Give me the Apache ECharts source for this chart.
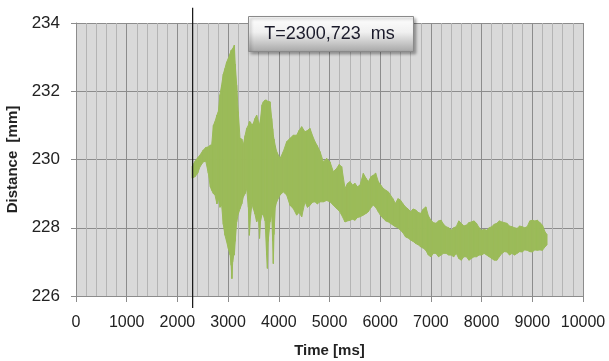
<!DOCTYPE html>
<html>
<head>
<meta charset="utf-8">
<style>
  html, body { margin: 0; padding: 0; background: #fff; }
  #chart { width: 609px; height: 361px; }
</style>
<script src="https://cdn.jsdelivr.net/npm/echarts@6/dist/echarts.min.js"></script>
</head>
<body>
<div id="chart"></div>
<script>
const time = [
  2290, 2350, 2400, 2446, 2511, 2560, 2610, 2650, 2676, 2710, 2742, 2780, 2807, 2840,
  2873, 2905, 2939, 2970, 3005, 3040, 3060, 3075, 3090, 3110, 3123, 3140, 3169, 3200,
  3235, 3270, 3300, 3335, 3366, 3400, 3420, 3440, 3470, 3498, 3530, 3563, 3600, 3620,
  3640, 3670, 3695, 3730, 3760, 3775, 3790, 3827, 3860, 3880, 3892, 3905, 3930, 3958,
  4024, 4089, 4155, 4221, 4287, 4352, 4400, 4451, 4517, 4565, 4615, 4665, 4714, 4760,
  4813, 4879, 4944, 5010, 5076, 5142, 5190, 5240, 5306, 5355, 5405, 5455, 5503, 5550,
  5602, 5667, 5720, 5766, 5820, 5865, 5910, 5963, 6010, 6062, 6110, 6161, 6250, 6300,
  6350, 6400, 6450, 6500, 6550, 6600, 6650, 6700, 6750, 6800, 6850, 6900, 6950, 7000,
  7050, 7100, 7150, 7200, 7250, 7300, 7350, 7400, 7450, 7500, 7550, 7600, 7650, 7700,
  7750, 7800, 7850, 7900, 7950, 8000, 8050, 8100, 8150, 8200, 8250, 8300, 8350, 8400,
  8450, 8500, 8550, 8600, 8650, 8700, 8750, 8800, 8850, 8900, 8950, 9000, 9050, 9100,
  9150, 9200, 9250, 9290,
];
const upper = [
  229.80, 229.95, 230.05, 230.13, 230.28, 230.35, 230.37, 230.42, 230.42, 231.00, 231.11, 231.30, 231.40, 231.90,
  232.18, 232.50, 232.67, 232.85, 232.96, 233.10, 233.20, 233.21, 233.25, 233.30, 233.35, 232.80, 232.18, 231.40,
  230.62, 230.60, 230.42, 230.70, 230.91, 231.00, 231.11, 231.10, 231.00, 231.06, 231.20, 231.30, 231.10, 231.01,
  231.20, 231.60, 231.69, 231.74, 231.74, 231.70, 231.70, 231.69, 231.20, 230.90, 230.71, 230.60, 230.40, 230.23,
  230.03, 230.23, 230.52, 230.62, 230.71, 230.71, 230.85, 230.96, 230.81, 230.85, 230.91, 230.70, 230.52, 230.40,
  230.23, 229.93, 230.03, 229.93, 229.64, 229.74, 229.85, 229.79, 229.15, 229.30, 229.35, 229.25, 229.30, 229.20,
  229.25, 229.59, 229.45, 229.35, 229.50, 229.54, 229.60, 229.35, 229.25, 229.15, 229.10, 229.05, 228.85, 228.71,
  228.85, 228.81, 228.70, 228.61, 228.55, 228.47, 228.55, 228.52, 228.45, 228.42, 228.55, 228.61, 228.35, 228.22,
  228.15, 228.13, 228.20, 228.22, 228.10, 228.03, 228.00, 227.93, 228.00, 228.03, 228.20, 228.13, 228.05, 228.08,
  228.15, 228.17, 228.20, 228.13, 228.00, 227.93, 227.95, 227.93, 228.00, 228.03, 228.10, 228.13, 228.20, 228.17,
  228.15, 228.13, 228.05, 228.03, 228.00, 227.98, 228.05, 228.03, 228.00, 228.03, 228.20, 228.22, 228.20, 228.22,
  228.15, 228.08, 227.88, 227.80,
];
const lower = [
  229.45, 229.50, 229.60, 229.79, 229.93, 229.95, 229.60, 229.20, 229.10, 229.00, 228.96, 228.70, 228.86, 228.60,
  228.66, 228.10, 227.78, 227.60, 227.39, 227.20, 226.90, 226.51, 227.00, 227.20, 227.20, 227.60, 228.17, 228.40,
  228.56, 228.70, 228.90, 229.00, 229.15, 228.60, 227.78, 228.30, 228.70, 228.56, 228.40, 228.17, 228.30, 227.69,
  228.20, 228.40, 228.37, 228.20, 227.20, 226.81, 227.60, 228.17, 228.40, 227.60, 226.95, 227.80, 228.60, 228.76,
  228.96, 229.05, 228.96, 228.66, 228.56, 228.37, 228.45, 228.32, 228.76, 228.60, 228.66, 228.75, 228.76, 228.70,
  228.76, 228.76, 228.80, 228.76, 228.66, 228.56, 228.50, 228.37, 228.17, 228.20, 228.22, 228.25, 228.22, 228.30,
  228.32, 228.37, 228.42, 228.47, 228.60, 228.66, 228.60, 228.47, 228.35, 228.27, 228.20, 228.17, 228.08, 228.03,
  228.00, 227.93, 227.85, 227.73, 227.70, 227.64, 227.60, 227.54, 227.50, 227.44, 227.40, 227.34, 227.20, 227.15,
  227.25, 227.25, 227.15, 227.20, 227.25, 227.25, 227.20, 227.20, 227.15, 227.25, 227.10, 227.05, 227.15, 227.15,
  227.05, 227.10, 227.15, 227.15, 227.20, 227.20, 227.25, 227.20, 227.15, 227.10, 227.05, 227.05, 227.15, 227.25,
  227.30, 227.29, 227.20, 227.25, 227.20, 227.25, 227.30, 227.29, 227.35, 227.34, 227.30, 227.29, 227.35, 227.34,
  227.35, 227.34, 227.44, 227.50,
];

const xTicks = { min: 0, max: 10000, interval: 1000 };
const yTicks = { min: 226, max: 234, interval: 2 };

// vertical cursor at T, drawn a bit past the plot top and bottom
const markerTime = 2300.723;
const markerSpan = [225.65, 234.45];
const markerText = "T=2300,723  ms";

const C = {
  green: "#9bbb59", plot: "#d9d9d9", major: "#8c8c8c", minor: "#b4b4b4",
  axis: "#8c8c8c", ink: "#222",
};
const FONT = { fontFamily: "'Liberation Sans', sans-serif", fontSize: 16, color: C.ink };

const chart = echarts.init(document.getElementById("chart"), null, { renderer: "canvas" });

// one quad per step, between envelope i and i+1
function renderBand(params, api) {
  const i = params.dataIndex;
  if (i >= time.length - 1) return null;
  const pts = [
    api.coord([time[i], upper[i]]),
    api.coord([time[i + 1], upper[i + 1]]),
    api.coord([time[i + 1], lower[i + 1]]),
    api.coord([time[i], lower[i]]),
  ];
  return {
    type: "polygon",
    shape: { points: pts },
    style: { fill: C.green, stroke: C.green, lineWidth: 1 },
  };
}

chart.setOption({
  animation: false,
  backgroundColor: "#fff",
  grid: {
    left: 76, right: 26, top: 23, bottom: 65,
    outerBoundsMode: "none",
    show: true, backgroundColor: C.plot, borderWidth: 0,
  },
  xAxis: {
    type: "value", ...xTicks,
    name: "Time [ms]", nameLocation: "middle", nameGap: 47,
    nameTextStyle: { ...FONT, fontSize: 15, fontWeight: "bold" },
    axisLine: { show: true, lineStyle: { color: C.axis, width: 1 } },
    axisTick: { show: true, length: 6, lineStyle: { color: C.axis } },
    axisLabel: { ...FONT, margin: 19, formatter: (v) => String(v) },
    splitLine: { show: true, lineStyle: { color: C.major, width: 1 } },
    minorTick: { show: false, splitNumber: 5 },
    minorSplitLine: { show: true, lineStyle: { color: C.minor, width: 1 } },
  },
  yAxis: {
    type: "value", ...yTicks,
    name: "Distance  [mm]", nameLocation: "middle", nameGap: 55,
    nameTextStyle: { ...FONT, fontSize: 15, fontWeight: "bold" },
    axisLine: { show: true, lineStyle: { color: C.axis, width: 1 } },
    axisTick: { show: true, length: 5, lineStyle: { color: C.axis } },
    axisLabel: { ...FONT, fontSize: 17, margin: 16 },
    splitLine: { show: true, lineStyle: { color: C.major, width: 1 } },
  },
  graphic: [{
    type: "group", left: 248, top: 16,
    children: [
      {
        type: "rect", z: 100, shape: { x: 0, y: 0, width: 165, height: 35 },
        style: {
          fill: new echarts.graphic.LinearGradient(0, 0, 0, 1, [
            { offset: 0, color: "#ffffff" },
            { offset: 0.45, color: "#f0f0f0" },
            { offset: 1, color: "#a6a6a6" },
          ]),
          stroke: "#8a8a8a", lineWidth: 1,
          shadowBlur: 3, shadowOffsetX: 2, shadowOffsetY: 2, shadowColor: "rgba(0,0,0,0.35)",
        },
      },
      {
        type: "text", z: 101, x: 81, y: 18,
        style: {
          text: markerText, fill: "#1a1a2a", align: "center", verticalAlign: "middle",
          font: "18px 'Liberation Sans', sans-serif",
        },
      },
    ],
  }],
  series: [
    {
      name: "Distance", type: "custom", silent: true,
      data: time.map((t, i) => [t, lower[i], upper[i]]),
      encode: { x: 0, y: [1, 2] },
      renderItem: renderBand,
      z: 3,
    },
    {
      name: "cursor", type: "line", showSymbol: false, silent: true, clip: false,
      data: markerSpan.map((v) => [markerTime, v]),
      lineStyle: { width: 1.2, color: "#111" },
      z: 5,
    },
  ],
});
</script>
</body>
</html>
